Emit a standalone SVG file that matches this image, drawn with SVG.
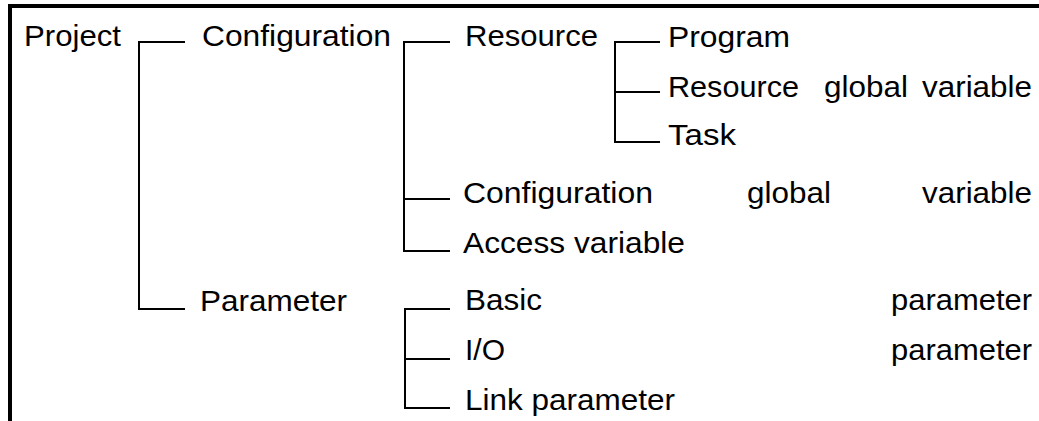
<svg xmlns="http://www.w3.org/2000/svg" width="1039" height="421" viewBox="0 0 1039 421">
<style>
text{font-family:"Liberation Sans",Arial,sans-serif;font-size:29px;fill:#000}
.c{fill:none;stroke:#000;stroke-width:2}
.b{fill:none;stroke:#000;stroke-width:4}
</style>
<rect width="1039" height="421" fill="#fff"/>
<path class="b" d="M10,421 V6 H1039"/>
<g id="connectors">
<path class="c" d="M185,42 H139 V309 H185"/>
<path class="c" d="M450,42 H404 V251 H450 M404,199 H450"/>
<path class="c" d="M660,42 H615 V142 H660 M615,92 H660"/>
<path class="c" d="M450,309 H405 V408 H450 M405,359 H450"/>
</g>
<g id="project"><text x="24" y="46" textLength="97" lengthAdjust="spacingAndGlyphs">Project</text></g>
<g id="configuration"><text x="202" y="46" textLength="189" lengthAdjust="spacingAndGlyphs">Configuration</text></g>
<g id="resource"><text x="465" y="46" textLength="133" lengthAdjust="spacingAndGlyphs">Resource</text></g>
<g id="program"><text x="668" y="47" textLength="122" lengthAdjust="spacingAndGlyphs">Program</text></g>
<g id="resource-global-variable">
<text x="668" y="97" textLength="131" lengthAdjust="spacingAndGlyphs">Resource</text>
<text x="824" y="97" textLength="84" lengthAdjust="spacingAndGlyphs">global</text>
<text x="922" y="97" textLength="110" lengthAdjust="spacingAndGlyphs">variable</text>
</g>
<g id="task"><text x="668" y="145" textLength="68" lengthAdjust="spacingAndGlyphs">Task</text></g>
<g id="configuration-global-variable">
<text x="463" y="203" textLength="190" lengthAdjust="spacingAndGlyphs">Configuration</text>
<text x="747" y="203" textLength="84" lengthAdjust="spacingAndGlyphs">global</text>
<text x="922" y="203" textLength="110" lengthAdjust="spacingAndGlyphs">variable</text>
</g>
<g id="access-variable"><text x="463" y="253" textLength="222" lengthAdjust="spacingAndGlyphs">Access variable</text></g>
<g id="parameter"><text x="200" y="311" textLength="147" lengthAdjust="spacingAndGlyphs">Parameter</text></g>
<g id="basic-parameter">
<text x="465" y="310" textLength="77" lengthAdjust="spacingAndGlyphs">Basic</text>
<text x="891" y="310" textLength="141" lengthAdjust="spacingAndGlyphs">parameter</text>
</g>
<g id="io-parameter">
<text x="465" y="360" textLength="40" lengthAdjust="spacingAndGlyphs">I/O</text>
<text x="891" y="360" textLength="141" lengthAdjust="spacingAndGlyphs">parameter</text>
</g>
<g id="link-parameter"><text x="465" y="410" textLength="210" lengthAdjust="spacingAndGlyphs">Link parameter</text></g>
</svg>
